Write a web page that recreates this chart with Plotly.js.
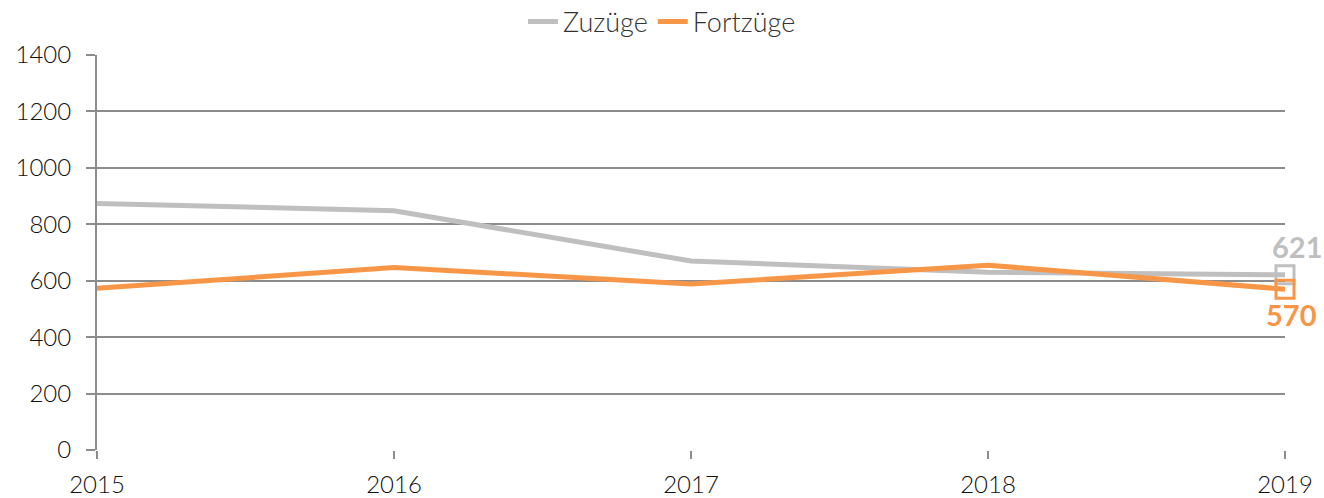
<!DOCTYPE html>
<html>
<head>
<meta charset="utf-8">
<script src="https://cdn.plot.ly/plotly-3.0.1.min.js"></script>
<style>html,body{margin:0;padding:0;background:#fff;}#chart{width:1324px;height:498px;}</style>
</head>
<body>
<div id="chart"></div>
<script>
const years = [2015, 2016, 2017, 2018, 2019];
const zuzuege = [874, 848, 670, 630, 621];
const fortzuege = [573, 647, 588, 655, 570];
const seriesNames = ["Zuzüge", "Fortzüge"];
const yTicks = [0, 200, 400, 600, 800, 1000, 1200, 1400];

const gray = "#BFBFBF";
const orange = "#F79646";
const last = years.length - 1;

const traces = [
  {x: years, y: zuzuege, name: seriesNames[0], mode: "lines", line: {color: gray, width: 5}},
  {x: years, y: fortzuege, name: seriesNames[1], mode: "lines", line: {color: orange, width: 5}},
  {x: [years[last]], y: [zuzuege[last]], mode: "markers", showlegend: false, cliponaxis: false,
   marker: {symbol: "square-open", size: 18, color: gray, line: {width: 3, color: gray}}},
  {x: [years[last]], y: [fortzuege[last]], mode: "markers", showlegend: false, cliponaxis: false,
   marker: {symbol: "square-open", size: 18, color: orange, line: {width: 3, color: orange}}}
];

const layout = {
  width: 1324, height: 498,
  margin: {l: 97, r: 39, t: 55, b: 48},
  paper_bgcolor: "#fff", plot_bgcolor: "#fff",
  font: {family: "Lato, 'Open Sans', sans-serif", size: 24, color: "#111", weight: 300},
  showlegend: true,
  legend: {orientation: "h", x: 0.5, xref: "container", xanchor: "center",
           y: 0.956, yref: "container", yanchor: "middle",
           font: {size: 27, color: "#333", weight: 300}, itemwidth: 30, tracegroupgap: 0},
  xaxis: {range: [years[0], years[last]], tickvals: years, ticktext: years.map(String),
          showgrid: false, zeroline: false, showline: false,
          ticks: "outside", ticklen: 8, tickwidth: 2, tickcolor: "#8c8c8c",
          ticklabelstandoff: 5,
          tickfont: {size: 24, color: "#111", weight: 300}},
  yaxis: {range: [0, 1400], tickvals: yTicks, showgrid: true, gridcolor: "#8c8c8c", gridwidth: 2,
          zeroline: false, showline: true, linecolor: "#8c8c8c", linewidth: 2,
          ticks: "outside", ticklen: 9, tickwidth: 2, tickcolor: "#8c8c8c",
          ticklabelstandoff: 10,
          tickfont: {size: 24, color: "#111", weight: 300}},
  annotations: [
    {x: years[last], y: zuzuege[last], text: "<b>" + zuzuege[last] + "</b>", showarrow: false,
     xanchor: "center", yanchor: "bottom", yshift: 9, xshift: 12, font: {size: 29, color: gray}},
    {x: years[last], y: fortzuege[last], text: "<b>" + fortzuege[last] + "</b>", showarrow: false,
     xanchor: "center", yanchor: "top", yshift: -6, xshift: 6, font: {size: 29, color: orange}}
  ]
};

Plotly.newPlot("chart", traces, layout, {displayModeBar: false, staticPlot: true});
</script>
</body>
</html>
